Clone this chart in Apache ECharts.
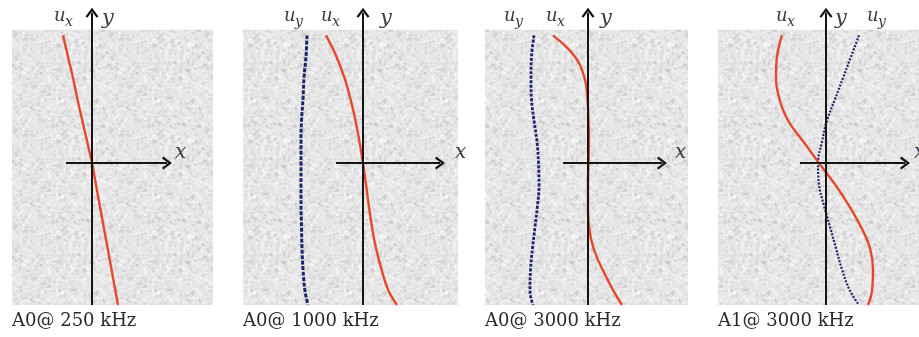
<!DOCTYPE html>
<html><head><meta charset="utf-8">
<script src="https://cdn.jsdelivr.net/npm/echarts@6/dist/echarts.min.js"></script>
<style>html,body{margin:0;padding:0;background:#fff}#c{width:919px;height:337px}</style>
</head><body><div id="c"></div>
<script>
// depth through the plate (normalised), top -> bottom
const depth = [0.9, 0.75, 0.6, 0.45, 0.3, 0.15, 0, -0.15, -0.3, -0.45, -0.6, -0.75, -0.9, -1.0];
const captions = ['A0@ 250 kHz', 'A0@ 1000 kHz', 'A0@ 3000 kHz', 'A1@ 3000 kHz'];
// in-plane (ux) and out-of-plane (uy) displacement profiles
const ux_A0_250  = [-0.29, -0.24, -0.19, -0.145, -0.097, -0.048, 0, 0.039, 0.078, 0.117, 0.156, 0.195, 0.234, 0.26];
const ux_A0_1000 = [-0.37, -0.265, -0.185, -0.125, -0.075, -0.035, 0, 0.03, 0.058, 0.09, 0.13, 0.185, 0.255, 0.34];
const uy_A0_1000 = [-0.56, -0.57, -0.59, -0.60, -0.615, -0.62, -0.62, -0.62, -0.62, -0.615, -0.61, -0.60, -0.58, -0.55];
const ux_A0_3000 = [-0.35, -0.13, -0.035, -0.005, 0.005, 0.01, 0.005, 0, 0, 0.01, 0.055, 0.145, 0.255, 0.34];
const uy_A0_3000 = [-0.54, -0.565, -0.57, -0.565, -0.54, -0.51, -0.495, -0.49, -0.505, -0.53, -0.555, -0.575, -0.58, -0.55];
const ux_A1_3000 = [-0.44, -0.49, -0.50, -0.465, -0.38, -0.225, -0.07, 0.09, 0.23, 0.35, 0.44, 0.47, 0.46, 0.42];
const uy_A1_3000 = [0.33, 0.25, 0.17, 0.09, 0.01, -0.04, -0.08, -0.07, -0.02, 0.04, 0.10, 0.16, 0.24, 0.33];

const uxSets = [ux_A0_250, ux_A0_1000, ux_A0_3000, ux_A1_3000];
const uySets = [null, uy_A0_1000, uy_A0_3000, uy_A1_3000];

// layout (px) and axis extents per panel
const layout = [
  {left: 12,  width: 201, xMin: -0.80, xMax: 1.21, axFrom: -0.26, axTo: 0.75, uyW: 3, uyDash: [4, 1.5],
   lab: {xl: [175, 153], yl: [102, 19], ux: [54, 16], uy: null}},
  {left: 243, width: 215, xMin: -1.20, xMax: 0.95, axFrom: -0.27, axTo: 0.77, uyW: 3, uyDash: [4, 1.5],
   lab: {xl: [455, 153], yl: [380, 19], ux: [321, 16], uy: [284, 16]}},
  {left: 485, width: 203, xMin: -1.03, xMax: 1.00, axFrom: -0.25, axTo: 0.74, uyW: 2.8, uyDash: [3, 1.5],
   lab: {xl: [675, 153], yl: [600, 19], ux: [546, 16], uy: [504, 16]}},
  {left: 718, width: 201, xMin: -1.08, xMax: 0.93, axFrom: -0.26, axTo: 0.79, uyW: 2.2, uyDash: [2, 1.5],
   lab: {xl: [914, 153], yl: [835, 19], ux: [776, 16], uy: [867, 16]}}
];
const yMin = -1, yMax = 1.1, yArrow = 1.06, plateTop = 0.94;

function makeTexture() {
  const c = document.createElement('canvas');
  c.width = c.height = 96;
  const g = c.getContext('2d');
  g.fillStyle = '#e6e6e6';
  g.fillRect(0, 0, 96, 96);
  let s = 12345;
  const rnd = () => { s = (s * 1103515245 + 12345) & 0x7fffffff; return s / 0x7fffffff; };
  for (let i = 0; i < 1400; i++) {
    const x = rnd() * 96, y = rnd() * 96, r = 0.5 + rnd() * 1.3, v = rnd();
    g.fillStyle = v < 0.55 ? 'rgba(255,255,255,0.35)' : 'rgba(140,140,140,0.15)';
    g.beginPath(); g.arc(x, y, r, 0, 7); g.fill();
  }
  return c;
}
const tex = makeTexture();
const chevron = 'path://M5,0 L10,7.5 L8.6,8.6 L5,3.2 L1.4,8.6 L0,7.5 Z';

const grids = [], xAxes = [], yAxes = [], series = [], graphics = [];
const serif = '"DejaVu Serif", "Liberation Serif", serif';
const labColor = '#3b3b48';

layout.forEach((p, i) => {
  grids.push({left: p.left, width: p.width, top: 7, height: 298, containLabel: false});
  xAxes.push({type: 'value', gridIndex: i, min: p.xMin, max: p.xMax, show: false});
  yAxes.push({type: 'value', gridIndex: i, min: yMin, max: yMax, show: false});
  // plate background
  series.push({
    type: 'line', xAxisIndex: i, yAxisIndex: i, data: [[0, 0]], showSymbol: false, silent: true, z: 0,
    lineStyle: {width: 0},
    markArea: {silent: true, itemStyle: {color: {image: tex, repeat: 'repeat'}, opacity: 1, borderWidth: 0},
      data: [[{coord: [p.xMin, yMin]}, {coord: [p.xMax, plateTop]}]]}
  });
  // coordinate axes with arrows
  series.push({
    type: 'line', xAxisIndex: i, yAxisIndex: i, data: [[0, 0]], showSymbol: false, silent: true, z: 1,
    lineStyle: {width: 0},
    markLine: {silent: true, symbol: ['none', chevron], symbolSize: [13, 10],
      label: {show: false}, lineStyle: {color: '#151515', width: 2, type: 'solid'},
      emphasis: {disabled: true},
      data: [
        [{coord: [p.axFrom, 0]}, {coord: [p.axTo, 0]}],
        [{coord: [0, yMin]}, {coord: [0, yArrow]}]
      ]}
  });
  if (uySets[i]) {
    series.push({
      type: 'line', xAxisIndex: i, yAxisIndex: i, z: 2, smooth: 0.4, showSymbol: false, silent: true,
      data: depth.map((d, k) => [uySets[i][k], d]),
      lineStyle: {color: '#1c2470', width: p.uyW, type: p.uyDash}
    });
  }
  series.push({
    type: 'line', xAxisIndex: i, yAxisIndex: i, z: 3, smooth: 0.4, showSymbol: false, silent: true,
    data: depth.map((d, k) => [uxSets[i][k], d]),
    lineStyle: {color: '#e8472b', width: 2.4}
  });

  const L = p.lab;
  const it = (txt, x, y, size) => ({type: 'text', x: x, y: y, z: 100, silent: true,
    style: {text: txt, font: 'italic ' + size + 'px ' + serif, fill: labColor,
      textAlign: 'left', textVerticalAlign: 'middle', align: 'left', verticalAlign: 'middle'}});
  graphics.push(it('x', L.xl[0], L.xl[1], 20));
  graphics.push(it('y', L.yl[0], L.yl[1], 21));
  graphics.push(it('u', L.ux[0], L.ux[1], 18));
  graphics.push(it('x', L.ux[0] + 11, L.ux[1] + 6, 14));
  if (L.uy) {
    graphics.push(it('u', L.uy[0], L.uy[1], 18));
    graphics.push(it('y', L.uy[0] + 11, L.uy[1] + 6, 14));
  }
  graphics.push({type: 'text', x: p.left, y: 321, z: 100, silent: true,
    style: {text: captions[i], font: '18px ' + serif, fill: '#2a2a2a',
      textAlign: 'left', textVerticalAlign: 'middle', align: 'left', verticalAlign: 'middle'}});
});

const chart = echarts.init(document.getElementById('c'), null, {renderer: 'canvas'});
chart.setOption({
  animation: false,
  backgroundColor: '#ffffff',
  grid: grids, xAxis: xAxes, yAxis: yAxes, series: series, graphic: graphics
});
</script>
</body></html>
